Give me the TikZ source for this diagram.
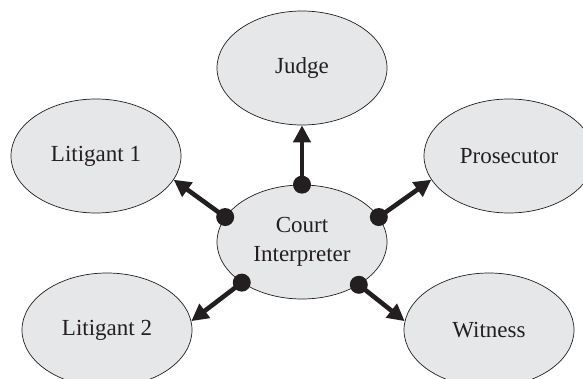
\documentclass[tikz,border=0pt]{standalone}
\usepackage{fontspec}
\setmainfont{Liberation Serif}
\usetikzlibrary{shapes.geometric,arrows.meta}
\definecolor{roleFill}{HTML}{E6E7E8}
\definecolor{ink}{HTML}{231F20}
\tikzset{
  role/.style={ellipse, draw=ink, line width=0.7pt, fill=roleFill,
    minimum width=170pt, minimum height=114pt, inner sep=0pt,
    text=ink, align=center, font=\fontsize{23}{29}\selectfont},
  conn/.style={draw=ink, line width=4.6pt,
    -{Triangle[length=17pt,width=17pt]}},
  hub/.style={fill=ink}
}
\begin{document}
\begin{tikzpicture}[x=1pt,y=-1pt]
  \useasboundingbox (0,0) rectangle (583,379);
  \clip (0,0) rectangle (583,379);

  % participants around the interpreter
  \node[role] (judge) at (302,68)  {Judge};
  \node[role] (lit1)  at (96,156)  {Litigant 1};
  \node[role] (pros)  at (509,156) {Prosecutor};
  \node[role] (ci)    at (302,242) {Court\\Interpreter};
  \node[role] (lit2)  at (107,330) {Litigant 2};
  \node[role] (wit)   at (489,330) {Witness};

  % connectors leaving the interpreter
  \draw[conn] (ci.north) -- (judge.south);
  \draw[conn] (ci.162)   -- (lit1.-17);
  \draw[conn] (ci.18)    -- (pros.-163);
  \draw[conn] (ci.-146)  -- (lit2.6);
  \draw[conn] (ci.-37)   -- (wit.174);

  % round feet of the connectors
  \fill[hub] (ci.north) circle[radius=9pt];
  \fill[hub] (ci.162)   circle[radius=9pt];
  \fill[hub] (ci.18)    circle[radius=9pt];
  \fill[hub] (ci.-146)  circle[radius=9pt];
  \fill[hub] (ci.-37)   circle[radius=9pt];
\end{tikzpicture}
\end{document}
